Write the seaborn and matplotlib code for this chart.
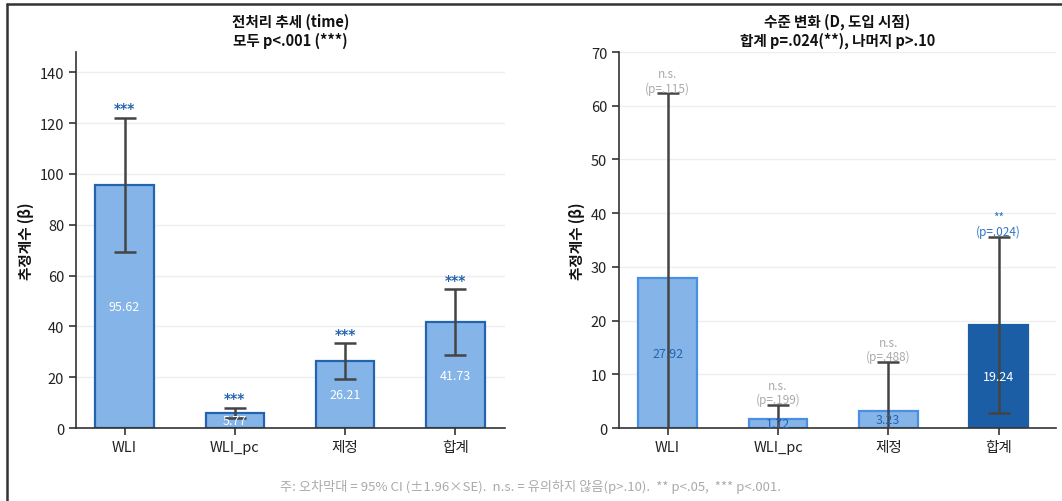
import numpy as np
import pandas as pd
import matplotlib.pyplot as plt
import seaborn as sns
from matplotlib.lines import Line2D

sns.set_theme(style="white")
plt.rcParams["font.family"] = ["Noto Sans CJK KR", "DejaVu Sans"]
plt.rcParams["axes.unicode_minus"] = False

# 데이터
categories = ["WLI", "WLI_pc", "제정", "합계"]

# 전처리 추세 (time)
time_beta = [95.62, 5.77, 26.21, 41.73]
time_ci = [26.4, 2.0, 7.1, 12.8]
time_sig = ["***", "***", "***", "***"]

# 수준 변화 (D)
level_beta = [27.92, 1.72, 3.23, 19.24]
level_ci = [34.4, 2.6, 9.1, 16.4]
level_sig = ["n.s.\n(p=.115)", "n.s.\n(p=.199)", "n.s.\n(p=.488)", "**\n(p=.024)"]
level_is_sig = [False, False, False, True]

light = "#85B5E8"
dark = "#1B5EA5"
txt_blue = "#2463AE"

fig = plt.figure(figsize=(10.62, 5.02), dpi=100)
ax1 = fig.add_axes([0.0716, 0.1454, 0.404, 0.749])
ax2 = fig.add_axes([0.5829, 0.1454, 0.4115, 0.749])


def draw_panel(ax, beta, ci, fills, edges, ylim, yticks, title):
    df = pd.DataFrame({"cat": categories, "beta": beta})
    sns.barplot(data=df, x="cat", y="beta", hue="cat", palette=fills,
                saturation=1, legend=False, width=0.53, ax=ax, zorder=2)
    for p, ec in zip(ax.patches, edges):
        p.set_edgecolor(ec)
        p.set_linewidth(1.6)
    ax.errorbar(np.arange(len(beta)), beta, yerr=ci, fmt="none",
                ecolor="#444444", elinewidth=1.8, capsize=8, capthick=1.8, zorder=3)
    ax.set_ylim(*ylim)
    ax.set_yticks(yticks)
    ax.yaxis.grid(True, color="#eeeeee", linewidth=1, zorder=0)
    ax.set_axisbelow(True)
    sns.despine(ax=ax)
    for s in ["left", "bottom"]:
        ax.spines[s].set_color("#333333")
        ax.spines[s].set_linewidth(1.2)
    ax.tick_params(axis="both", which="both", left=True, bottom=True,
                   length=5, width=1.2, color="#333333", labelsize=10.5,
                   labelcolor="#222222")
    ax.set_xlabel("")
    ax.set_ylabel("추정계수 (β)", fontsize=10.5, fontweight="bold", color="#111111")
    ax.set_title(title, fontsize=10.5, fontweight="bold", color="#111111", pad=5,
                 linespacing=1.25)


# 왼쪽: 전처리 추세
draw_panel(ax1, time_beta, time_ci, [light] * 4, [txt_blue] * 4,
           (0, 148), np.arange(0, 141, 20), "전처리 추세 (time)\n모두 p<.001 (***)")
ax1.set_xlim(-0.44, 3.45)
for i, (b, c, s) in enumerate(zip(time_beta, time_ci, time_sig)):
    ax1.text(i, b / 2, f"{b:.2f}", ha="center", va="center", color="white", fontsize=9)
    ax1.annotate(s, (i, b + c), xytext=(0, 2), textcoords="offset points",
                 ha="center", va="bottom", color=txt_blue, fontsize=10,
                 fontweight="bold", family="DejaVu Sans")

# 오른쪽: 수준 변화
draw_panel(ax2, level_beta, level_ci, [light, light, light, dark],
           ["#4A90E2", "#4A90E2", "#4A90E2", dark],
           (0, 70), np.arange(0, 71, 10), "수준 변화 (D, 도입 시점)\n합계 p=.024(**), 나머지 p>.10")
ax2.set_xlim(-0.44, 3.52)
for i, (b, c, s, sig) in enumerate(zip(level_beta, level_ci, level_sig, level_is_sig)):
    ax2.text(i, b / 2, f"{b:.2f}", ha="center", va="center",
             color="white" if sig else txt_blue, fontsize=9)
    ax2.annotate(s, (i, b + c), xytext=(0, -1), textcoords="offset points",
                 ha="center", va="bottom", color="#2E75C8" if sig else "#aaaaaa",
                 fontsize=8.5, linespacing=1.1)

fig.text(0.5, 0.03, "주: 오차막대 = 95% CI (±1.96×SE).  n.s. = 유의하지 않음(p>.10).  ** p<.05,  *** p<.001.",
         ha="center", va="center", color="#aaaaaa", fontsize=9.5)

# 화면 테두리
fig.add_artist(Line2D([0.0066, 0.0066], [0, 0.99], color="#333333", linewidth=1.8,
                      transform=fig.transFigure))
fig.add_artist(Line2D([0.0066, 1], [0.99, 0.99], color="#333333", linewidth=1.8,
                      transform=fig.transFigure))

fig.savefig("out.png", dpi=100)
